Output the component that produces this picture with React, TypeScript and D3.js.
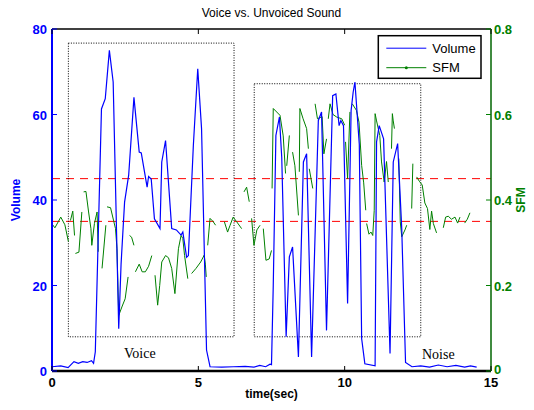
import React from "react";
import * as d3 from "d3";

// volume curve (time in sec, volume)
const volTime = [0, 0.3, 0.55, 0.65, 0.75, 0.9, 1.05, 1.2, 1.35, 1.42, 1.48, 1.69, 1.82, 1.96, 2.09, 2.28, 2.36, 2.48, 2.62, 2.8, 2.98, 3.05, 3.25, 3.3, 3.39, 3.5, 3.69, 3.75, 3.88, 4.09, 4.25, 4.41, 4.47, 4.6, 4.66, 4.83, 4.98, 5.11, 5.28, 5.4, 5.8, 6.2, 6.6, 6.9, 7.1, 7.3, 7.45, 7.5, 7.56, 7.65, 7.77, 7.85, 8.0, 8.11, 8.22, 8.42, 8.59, 8.7, 8.87, 9.1, 9.21, 9.38, 9.59, 9.7, 9.81, 9.87, 9.96, 10.1, 10.22, 10.29, 10.35, 10.5, 10.58, 10.69, 11.04, 11.09, 11.18, 11.33, 11.55, 11.66, 11.81, 11.95, 12.08, 12.3, 12.6, 12.9, 13.2, 13.5, 13.8, 14.1, 14.3, 14.51];
const volValue = [1.0, 1.2, 0.8, 1.5, 2.2, 1.8, 2.2, 2.0, 2.4, 1.8, 4.5, 61.3, 63.7, 75, 67.6, 9.9, 25, 39.5, 45.8, 64, 51.2, 51, 43, 45.5, 44.9, 35.6, 33.3, 48.9, 53.9, 33.3, 33, 31.8, 32.5, 26.6, 27, 52.8, 70.7, 56.7, 4.9, 1.0, 0.9, 1.0, 1.1, 0.9, 1.3, 1.0, 1.6, 1.5, 20, 55.1, 59.4, 50, 8.0, 26.7, 29, 3.3, 48.9, 50.8, 3.3, 58.6, 60.6, 9.5, 64.4, 64.8, 57.4, 58.6, 57.4, 15.8, 60.9, 65.2, 67.6, 53, 7.6, 1.7, 1.2, 53.6, 57.4, 54.3, 4.1, 48.9, 53.2, 33.3, 2, 1, 1.2, 0.9, 1.4, 1.0, 1.3, 0.9, 1.2, 0.9];

// spectral flatness (null = gap)
const sfmTime = [0.02, 0.1, 0.22, 0.3, 0.44, 0.56, 0.6, 0.63, 0.71, 0.77, 0.78, 0.8, 0.92, 1.02, 1.05, 1.08, 1.16, 1.25, 1.33, 1.36, 1.45, 1.54, 1.58, 1.6, 1.71, 1.84, 1.86, 1.88, 2.0, 2.17, 2.22, 2.28, 2.4, 2.5, 2.6, 2.62, 2.65, 2.72, 2.8, 2.82, 2.85, 2.98, 3.08, 3.19, 3.3, 3.41, 3.46, 3.52, 3.61, 3.68, 3.75, 3.88, 3.98, 4.09, 4.2, 4.32, 4.41, 4.47, 4.53, 4.64, 4.7, 4.77, 4.92, 5.08, 5.2, 5.24, 5.27, 5.3, 5.32, 5.4, 5.5, 5.59, 5.7, 5.89, 6.0, 6.08, 6.19, 6.3, 6.48, 6.51, 6.56, 6.65, 6.74, 6.78, 6.82, 6.9, 7.0, 7.11, 7.16, 7.22, 7.31, 7.42, 7.5, 7.51, 7.52, 7.56, 7.79, 7.9, 7.98, 7.99, 8.02, 8.11, 8.16, 8.22, 8.3, 8.42, 8.44, 8.45, 8.47, 8.58, 8.7, 8.76, 8.77, 8.79, 8.91, 8.95, 8.99, 9.07, 9.23, 9.29, 9.38, 9.41, 9.44, 9.5, 9.6, 9.73, 9.9, 10.0, 10.01, 10.03, 10.1, 10.18, 10.22, 10.26, 10.4, 10.49, 10.58, 10.65, 10.72, 10.73, 10.75, 10.83, 10.9, 10.96, 11.01, 11.04, 11.09, 11.2, 11.26, 11.35, 11.43, 11.49, 11.55, 11.6, 11.63, 11.66, 11.7, 11.78, 11.85, 11.9, 11.95, 12.06, 12.12, 12.2, 12.29, 12.33, 12.38, 12.46, 12.55, 12.65, 12.74, 12.83, 12.91, 12.97, 13.03, 13.14, 13.25, 13.37, 13.45, 13.54, 13.65, 13.77, 13.86, 13.94, 14.02, 14.1, 14.19, 14.28, 14.4, 14.51];
const sfmValue = [0.342, 0.335, 0.35, 0.36, 0.342, 0.303, null, 0.352, 0.374, 0.317, null, 0.275, 0.278, 0.372, null, 0.419, 0.42, 0.372, 0.333, 0.294, 0.345, 0.372, 0.279, null, 0.24, 0.341, null, 0.384, 0.382, 0.333, 0.286, 0.13, 0.152, 0.169, 0.22, null, 0.317, 0.313, 0.294, null, 0.232, 0.25, 0.232, 0.232, 0.245, 0.27, null, 0.224, 0.154, 0.2, 0.255, 0.27, 0.265, 0.24, 0.181, 0.286, 0.317, 0.31, 0.27, 0.216, null, 0.228, 0.24, 0.255, 0.271, 0.25, 0.22, null, 0.294, 0.357, 0.35, 0.341, null, 0.349, 0.325, 0.34, 0.36, 0.35, 0.333, null, 0.419, 0.43, 0.396, null, 0.357, 0.294, 0.33, 0.341, null, 0.333, 0.259, 0.262, 0.282, null, 0.427, 0.614, 0.598, 0.55, 0.462, null, 0.48, 0.551, null, 0.512, 0.48, 0.364, null, 0.466, 0.614, 0.59, 0.567, 0.52, null, 0.473, 0.427, null, 0.625, 0.59, 0.595, 0.508, 0.543, null, 0.59, 0.625, 0.6, 0.594, 0.59, 0.575, null, 0.536, 0.45, 0.606, null, 0.625, 0.61, 0.582, 0.481, 0.44, 0.376, null, 0.345, 0.32, 0.325, 0.317, 0.376, 0.602, 0.585, 0.551, 0.489, 0.442, 0.49, 0.442, null, 0.52, 0.602, 0.585, 0.567, null, 0.497, 0.349, 0.314, 0.33, 0.341, null, 0.38, 0.485, null, 0.454, 0.444, 0.435, 0.393, 0.38, 0.331, 0.374, 0.345, 0.323, null, 0.335, 0.36, 0.362, 0.355, 0.36, 0.346, 0.36, null, 0.346, 0.355, 0.37];

const volTicks = [0, 20, 40, 60, 80];
const sfmTicks = [0, 0.2, 0.4, 0.6, 0.8];
const timeTicks = [0, 5, 10, 15];
const thresholds = [45, 35];

// annotated regions [t0, t1, vol0, vol1]
const voiceBox = [0.56, 6.22, 8, 76.7];
const noiseBox = [6.91, 12.6, 8, 67.2];

export default function App() {
  const W = 534, H = 410;
  const m = { top: 29, right: 43, bottom: 39, left: 52 };
  const iw = W - m.left - m.right;
  const ih = H - m.top - m.bottom;

  const x = d3.scaleLinear().domain([0, 15]).range([0, iw]);
  const yL = d3.scaleLinear().domain([0, 80]).range([ih, 0]);
  const yR = d3.scaleLinear().domain([0, 0.8]).range([ih, 0]);

  const volLine = d3.line<number>()
    .x((d, i) => x(volTime[i]))
    .y(d => yL(d));

  const sfmLine = d3.line<number | null>()
    .defined(d => d !== null)
    .x((d, i) => x(sfmTime[i]))
    .y(d => yR(d as number));

  const font = "Liberation Sans, Arial, sans-serif";

  const box = (b: number[], key: string) => (
    <rect key={key} x={x(b[0])} y={yL(b[3])} width={x(b[1]) - x(b[0])} height={yL(b[2]) - yL(b[3])}
      fill="none" stroke="#000" strokeWidth={1} strokeDasharray="1,1.5" />
  );

  return (
    <svg width={W} height={H} style={{ position: "absolute", left: 0, top: 0, background: "#fff" }} fontFamily={font}>
      <text x={m.left + iw / 2} y={17} textAnchor="middle" fontSize={12}>Voice vs. Unvoiced Sound</text>
      <g transform={`translate(${m.left},${m.top})`}>
        {thresholds.map(t => (
          <line key={t} x1={0} x2={iw} y1={yL(t)} y2={yL(t)} stroke="#ff0000" strokeWidth={1} strokeDasharray="8,6" />
        ))}
        {box(voiceBox, "v")}
        {box(noiseBox, "n")}
        <path d={sfmLine(sfmValue) || ""} fill="none" stroke="#008000" strokeWidth={1} />
        <path d={volLine(volValue) || ""} fill="none" stroke="#0000ff" strokeWidth={1.2} />

        <text x={x(3.0)} y={yL(3.0)} textAnchor="middle" fontFamily="Liberation Serif, Times New Roman, serif" fontSize={14}>Voice</text>
        <text x={x(13.2)} y={yL(2.8)} textAnchor="middle" fontFamily="Liberation Serif, Times New Roman, serif" fontSize={14}>Noise</text>

        {/* frame */}
        <line x1={0} x2={iw} y1={0} y2={0} stroke="#000" strokeWidth={1.5} />
        <line x1={0} x2={iw} y1={ih} y2={ih} stroke="#000" strokeWidth={2.5} />
        <line x1={0} x2={0} y1={0} y2={ih} stroke="#0000ff" strokeWidth={2} />
        <line x1={iw} x2={iw} y1={0} y2={ih} stroke="#006400" strokeWidth={1.5} />

        {timeTicks.map(t => (
          <g key={t}>
            <line x1={x(t)} x2={x(t)} y1={ih} y2={ih - 5} stroke="#000" />
            <line x1={x(t)} x2={x(t)} y1={0} y2={5} stroke="#000" />
            <text x={x(t)} y={ih + 16} textAnchor="middle" fontSize={13} fontWeight="bold">{t}</text>
          </g>
        ))}
        {volTicks.map(t => (
          <g key={t}>
            <line x1={0} x2={5} y1={yL(t)} y2={yL(t)} stroke="#0000ff" />
            <text x={-5} y={yL(t) + 5} textAnchor="end" fontSize={13} fontWeight="bold" fill="#0000ff">{t}</text>
          </g>
        ))}
        {sfmTicks.map(t => (
          <g key={t}>
            <line x1={iw} x2={iw - 5} y1={yR(t)} y2={yR(t)} stroke="#008000" />
            <text x={iw + 3} y={yR(t) + (t === 0 ? 3 : 5)} textAnchor="start" fontSize={13} fontWeight="bold" fill="#008000">{t}</text>
          </g>
        ))}

        <text x={iw / 2} y={ih + 27} textAnchor="middle" fontSize={12} fontWeight="bold">time(sec)</text>
        <text transform={`translate(${-32},${ih / 2}) rotate(-90)`} textAnchor="middle" fontSize={12} fontWeight="bold" fill="#0000ff">Volume</text>
        <text transform={`translate(${iw + 34},${ih / 2}) rotate(-90)`} textAnchor="middle" fontSize={12} fontWeight="bold" fill="#008000">SFM</text>

        {/* legend */}
        <g transform={`translate(${378.3 - m.left},${35.7 - m.top})`}>
          <rect x={0} y={0} width={102.7} height={42.6} fill="#fff" stroke="#000" strokeWidth={1.5} />
          <line x1={8} x2={48} y1={12.5} y2={12.5} stroke="#0000ff" />
          <text x={54} y={17} fontSize={13}>Volume</text>
          <line x1={8} x2={48} y1={32} y2={32} stroke="#008000" />
          <circle cx={28} cy={32} r={1.5} fill="#008000" />
          <text x={54} y={36.5} fontSize={13}>SFM</text>
        </g>
      </g>
    </svg>
  );
}
